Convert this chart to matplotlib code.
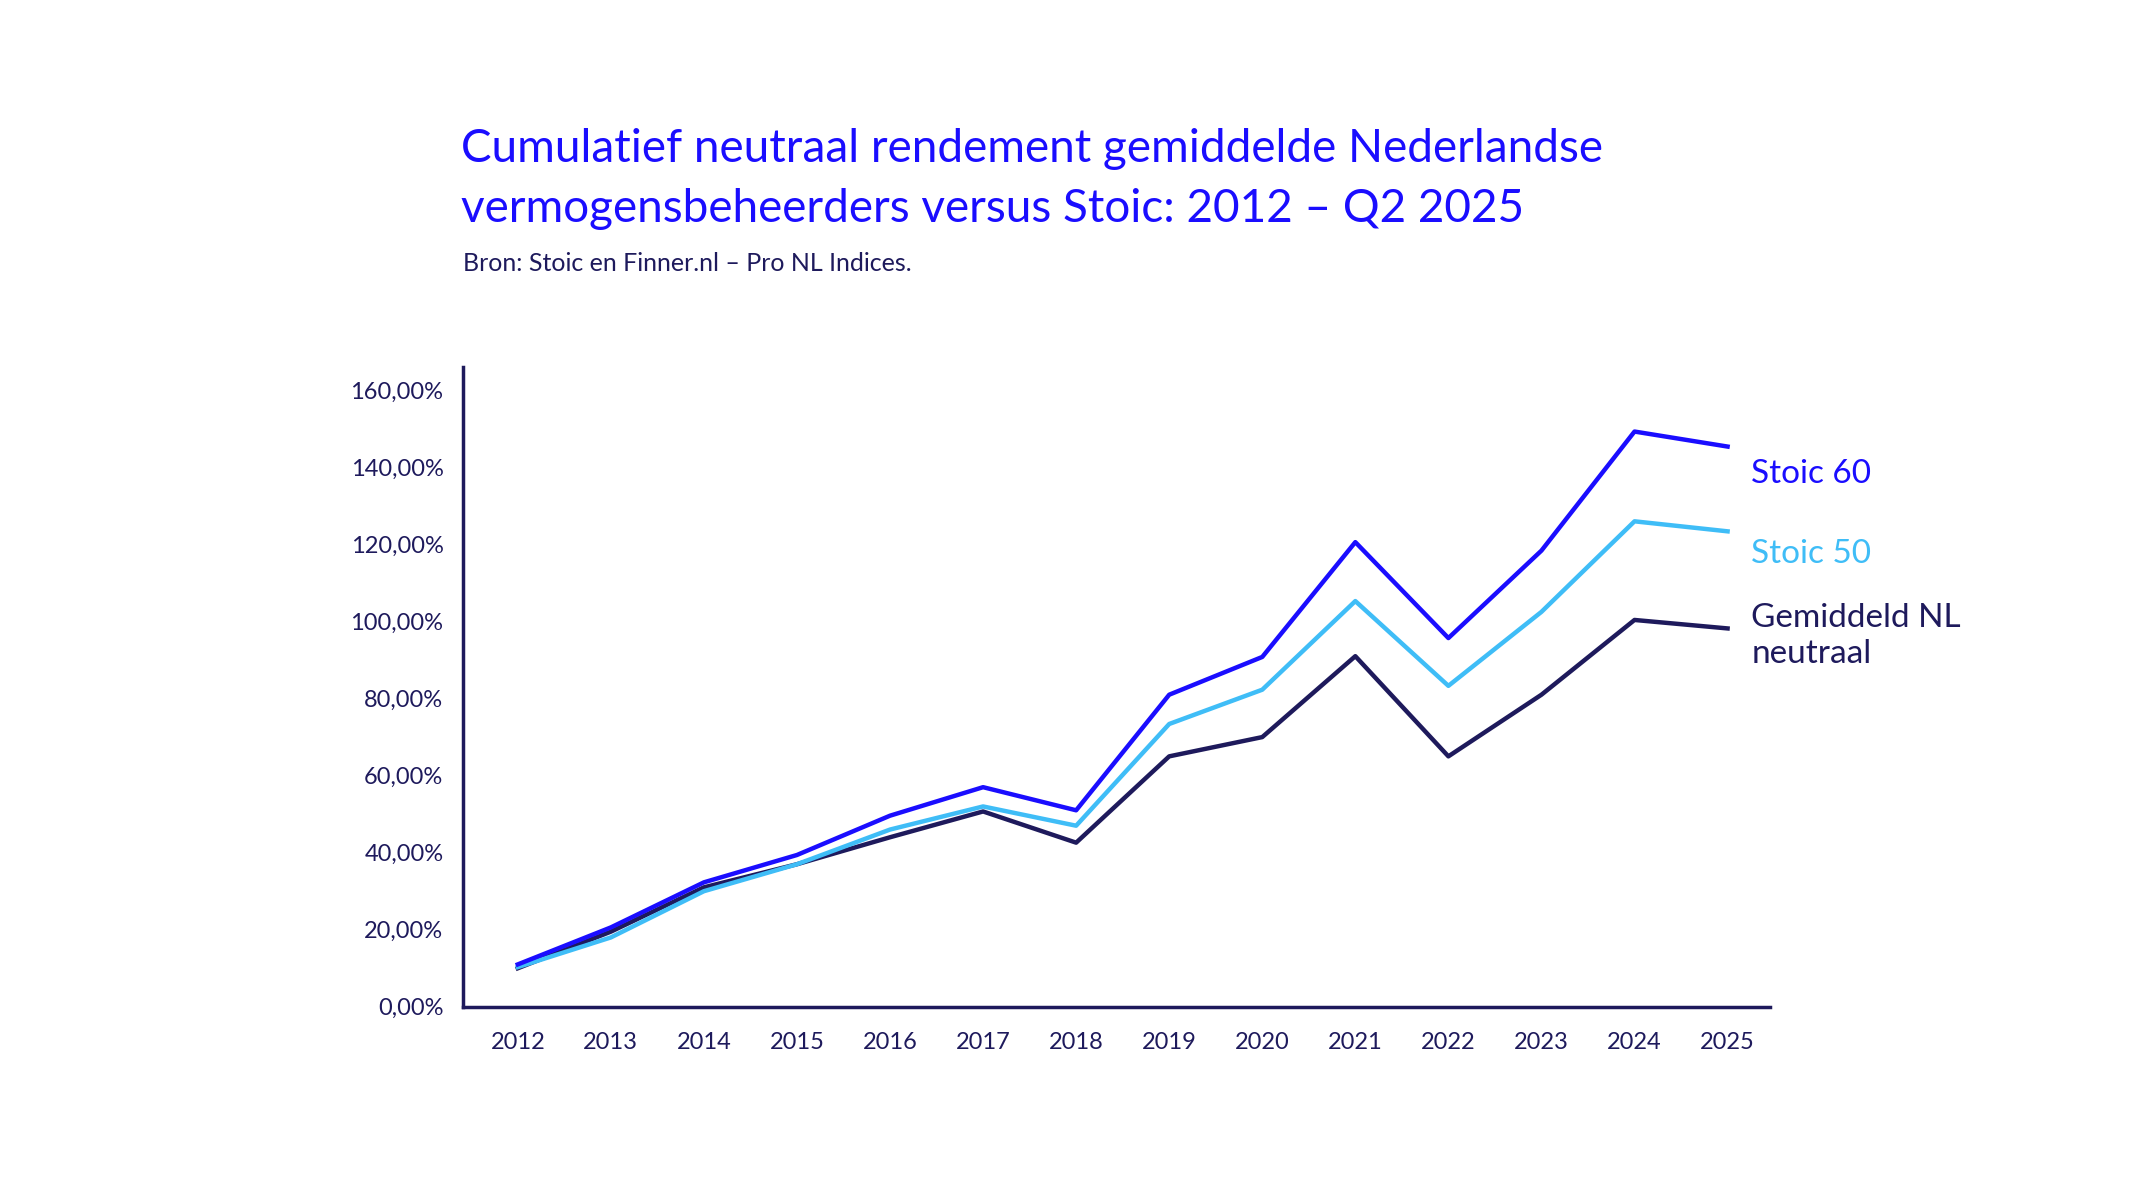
import matplotlib
matplotlib.use("Agg")
import matplotlib.pyplot as plt
from matplotlib.ticker import FuncFormatter

years = list(range(2012, 2026))
stoic60 = [11, 20.6, 32.3, 39.4, 49.6, 57, 51, 81, 90.8, 120.6, 95.7, 118.4, 149.3, 145.4]
stoic50 = [10.3, 18, 30, 37, 46, 52, 47, 73.4, 82.3, 105.3, 83.3, 102.5, 126, 123.4]
nl_neutraal = [10, 19.5, 31, 37, 44, 50.7, 42.6, 65, 70, 91, 65, 81, 100.4, 98.2]
yticks = [0, 20, 40, 60, 80, 100, 120, 140, 160]

c60 = "#1a0dff"
c50 = "#3fbdf7"
cnl = "#1e1a5c"
plt.rcParams["font.family"] = "Lato"

fig = plt.figure(figsize=(21.33, 12), dpi=100)
ax = fig.add_axes([0.217, 0.161, 0.613, 0.533])
ax.plot(years, nl_neutraal, color=cnl, lw=3.2, zorder=3)
ax.plot(years, stoic50, color=c50, lw=3.2, zorder=4)
ax.plot(years, stoic60, color=c60, lw=3.2, zorder=5)
ax.set_xlim(2011.41, 2025.46)
ax.set_ylim(0, 166)
ax.set_xticks(years)
ax.set_yticks(yticks)
ax.yaxis.set_major_formatter(FuncFormatter(lambda v, p: f"{v:.2f}%".replace(".", ",")))
for s in ["top", "right"]:
    ax.spines[s].set_visible(False)
for s in ["left", "bottom"]:
    ax.spines[s].set_color(cnl)
    ax.spines[s].set_linewidth(2.5)
ax.tick_params(length=0, labelsize=17, colors=cnl, pad=14)
ax.tick_params(axis="x", pad=18)

fig.text(0.216, 0.865, "Cumulatief neutraal rendement gemiddelde Nederlandse", color=c60, fontsize=33, va="baseline")
fig.text(0.216, 0.815, "vermogensbeheerders versus Stoic: 2012 – Q2 2025", color=c60, fontsize=33, va="baseline")
fig.text(0.217, 0.774, "Bron: Stoic en Finner.nl – Pro NL Indices.", color=cnl, fontsize=18, va="baseline")

fig.text(0.821, 0.605, "Stoic 60", color=c60, fontsize=24, va="center")
fig.text(0.821, 0.538, "Stoic 50", color=c50, fontsize=24, va="center")
fig.text(0.821, 0.470, "Gemiddeld NL\nneutraal", color=cnl, fontsize=24, va="center", linespacing=1.25)

fig.savefig("out.png", dpi=100, facecolor="white")
